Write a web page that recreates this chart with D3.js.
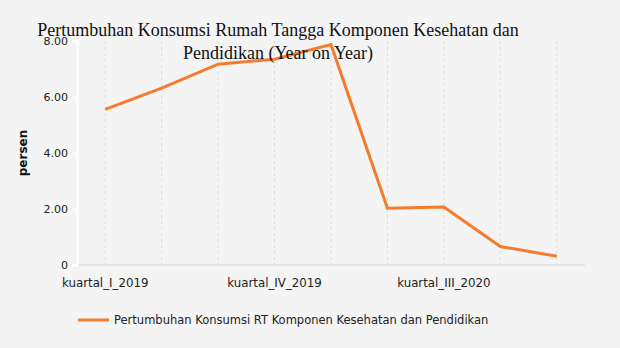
<!DOCTYPE html>
<html>
<head>
<meta charset="utf-8">
<script src="https://cdn.jsdelivr.net/npm/d3@7"></script>
<style>
  html, body { margin: 0; padding: 0; background: #f4f4f4; }
  svg { display: block; }
</style>
</head>
<body>
<div id="chart"></div>
<script>
// Quarterly categories
const categories = [
  "kuartal_I_2019", "kuartal_II_2019", "kuartal_III_2019", "kuartal_IV_2019",
  "kuartal_I_2020", "kuartal_II_2020", "kuartal_III_2020", "kuartal_IV_2020",
  "kuartal_I_2021"
];
// Year-on-year growth, percent
const growth = [5.56, 6.32, 7.17, 7.35, 7.87, 2.03, 2.07, 0.66, 0.31];
const yTicks = [0, 2, 4, 6, 8];
const xLabelEvery = 3;
const titleLines = [
  "Pertumbuhan Konsumsi Rumah Tangga Komponen Kesehatan dan",
  "Pendidikan (Year on Year)"
];
const seriesName = "Pertumbuhan Konsumsi RT Komponen Kesehatan dan Pendidikan";
const yLabel = "persen";

const W = 620, H = 348;
const margin = { left: 77, right: 35, top: 41, bottom: 83 };
const lineColor = "#f47b2f";
const sansFont = "Verdana, 'DejaVu Sans', sans-serif";

const svg = d3.select("#chart").append("svg")
  .attr("width", W).attr("height", H);

svg.append("rect").attr("width", W).attr("height", H).attr("fill", "#f4f4f4");

const x = d3.scaleBand().domain(categories)
  .range([margin.left, W - margin.right]);
const y = d3.scaleLinear().domain([0, 8])
  .range([H - margin.bottom, margin.top]);

const cx = d => x(d) + x.bandwidth() / 2;

// vertical dashed gridlines at each quarter
svg.append("g").selectAll("line").data(categories).join("line")
  .attr("x1", cx).attr("x2", cx)
  .attr("y1", y(8)).attr("y2", y(0) + 4)
  .attr("stroke", "#dcdcdc").attr("stroke-width", 1)
  .attr("stroke-dasharray", "3,3");

// x axis baseline
svg.append("line")
  .attr("x1", margin.left).attr("x2", W - margin.right)
  .attr("y1", y(0)).attr("y2", y(0))
  .attr("stroke", "#e4e4e4").attr("stroke-width", 2);

// x labels (every third quarter)
const xAxis = d3.axisBottom(x)
  .tickValues(categories.filter((d, i) => i % xLabelEvery === 0))
  .tickSize(0).tickPadding(14);
const gx = svg.append("g")
  .attr("transform", `translate(0,${y(0)})`)
  .call(xAxis);
gx.select(".domain").remove();
gx.selectAll("text")
  .attr("font-family", sansFont).attr("font-size", 11.8).attr("fill", "#222");

// y axis
const yAxis = d3.axisLeft(y).tickValues(yTicks)
  .tickFormat(d => d === 0 ? "0" : d3.format(".2f")(d))
  .tickSize(5).tickPadding(4);
const gy = svg.append("g")
  .attr("transform", `translate(${margin.left},0)`)
  .call(yAxis);
gy.select(".domain").attr("stroke", "#ffffff").attr("stroke-width", 2);
gy.selectAll(".tick line").attr("stroke", "#ffffff").attr("stroke-width", 2);
gy.selectAll("text")
  .attr("font-family", sansFont).attr("font-size", 11).attr("fill", "#222");

// y axis title
svg.append("text")
  .attr("transform", `translate(27,${(y(0) + y(8)) / 2}) rotate(-90)`)
  .attr("text-anchor", "middle")
  .attr("font-family", sansFont).attr("font-size", 12).attr("font-weight", "bold")
  .attr("fill", "#111")
  .text(yLabel);

// series line
const line = d3.line()
  .x((d, i) => cx(categories[i]))
  .y(d => y(d));
svg.append("path").datum(growth)
  .attr("d", line)
  .attr("fill", "none")
  .attr("stroke", lineColor).attr("stroke-width", 3)
  .attr("stroke-linejoin", "miter");

// title
const title = svg.append("text")
  .attr("text-anchor", "middle")
  .attr("font-family", "'Liberation Serif', 'Times New Roman', serif")
  .attr("font-size", 18).attr("fill", "#111");
titleLines.forEach((t, i) => {
  title.append("tspan").attr("x", 278).attr("y", 36 + i * 23).text(t);
});

// legend
const lg = svg.append("g").attr("transform", "translate(78,320)");
lg.append("line").attr("x1", 0).attr("x2", 31).attr("y1", 0).attr("y2", 0)
  .attr("stroke", lineColor).attr("stroke-width", 3);
lg.append("text").attr("x", 36).attr("y", 4)
  .attr("font-family", sansFont).attr("font-size", 11.5).attr("fill", "#222")
  .text(seriesName);
</script>
</body>
</html>
